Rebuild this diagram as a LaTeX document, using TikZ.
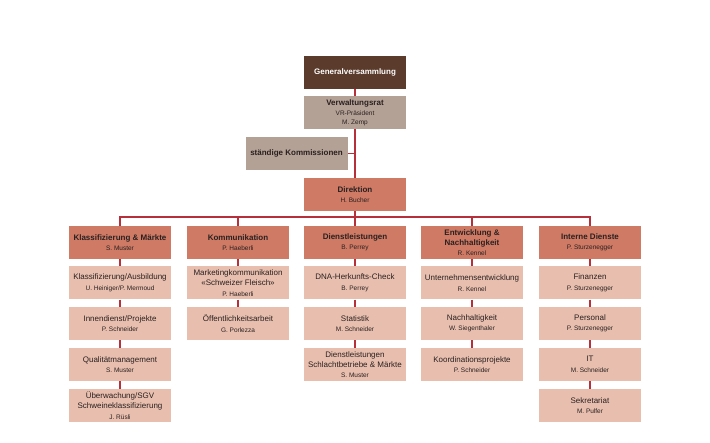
\documentclass[tikz,border=0pt]{standalone}
\usepackage{fontspec}
\setmainfont{Liberation Sans}
\usepackage{xcolor}
\usetikzlibrary{positioning}

\definecolor{gvbrown}{HTML}{5B3B2B}
\definecolor{vrgrey}{HTML}{B3A195}
\definecolor{dirred}{HTML}{CE7A65}
\definecolor{sublight}{HTML}{E8BFAE}
\definecolor{linered}{HTML}{B5303A}
\definecolor{textdark}{HTML}{2A2020}

\newcommand{\who}[1]{\\[1pt]{\fontsize{6.5}{8}\selectfont #1}}

\tikzset{
  unitbox/.style={minimum width=102pt, minimum height=33pt, inner sep=1pt,
    align=center, text=textdark, font=\fontsize{8}{9.5}\selectfont},
  headbox/.style={unitbox, fill=dirred, font=\fontsize{8}{9.5}\selectfont\bfseries},
  subbox/.style={unitbox, fill=sublight},
  link/.style={draw=linered, line width=1.1pt}
}

\begin{document}
\begin{tikzpicture}[x=1pt, y=-1pt]
\useasboundingbox (0,0) rectangle (710,443);

% top of the organisation
\node[unitbox, fill=gvbrown, text=white, font=\fontsize{8}{9.5}\selectfont\bfseries] (gv) at (355,72.5) {Generalversammlung};
\node[unitbox, fill=vrgrey] (vr) at (355,112.5) {\textbf{Verwaltungsrat}\who{VR-Präsident}\\[-1pt]{\fontsize{6.5}{8}\selectfont M. Zemp}};
\node[unitbox, fill=vrgrey, font=\fontsize{8}{9.5}\selectfont\bfseries] (komm) at (296.5,153.5) {ständige Kommissionen};
\node[headbox] (dir) at (355,194.5) {Direktion\who{\mdseries H. Bucher}};

% departments
\node[headbox] (k1) at (120,242.5) {Klassifizierung \& Märkte\who{\mdseries S. Muster}};
\node[headbox] (k2) at (238,242.5) {Kommunikation\who{\mdseries P. Haeberli}};
\node[headbox] (k3) at (355,242.5) {Dienstleistungen\who{\mdseries B. Perrey}};
\node[headbox] (k4) at (472,242.5) {Entwicklung \&\\[0.5pt]Nachhaltigkeit\who{\mdseries R. Kennel}};
\node[headbox] (k5) at (590,242.5) {Interne Dienste\who{\mdseries P. Sturzenegger}};

% Klassifizierung & Maerkte
\node[subbox] (k1a) at (120,283) {Klassifizierung/Ausbildung\who{U. Heiniger/P. Mermoud}};
\node[subbox] (k1b) at (120,323.5) {Innendienst/Projekte\who{P. Schneider}};
\node[subbox] (k1c) at (120,364.5) {Qualitätmanagement\who{S. Muster}};
\node[subbox] (k1d) at (120,405.5) {Überwachung/SGV\\[0.5pt]Schweineklassifizierung\who{J. Rüsli}};

% Kommunikation
\node[subbox] (k2a) at (238,283) {Marketingkommunikation\\[0.5pt]«Schweizer Fleisch»\who{P. Haeberli}};
\node[subbox] (k2b) at (238,323.5) {Öffentlichkeitsarbeit\who{G. Porlezza}};

% Dienstleistungen
\node[subbox] (k3a) at (355,283) {DNA-Herkunfts-Check\who{B. Perrey}};
\node[subbox] (k3b) at (355,323.5) {Statistik\who{M. Schneider}};
\node[subbox] (k3c) at (355,364.5) {Dienstleistungen\\[0.5pt]Schlachtbetriebe \& Märkte\who{S. Muster}};

% Entwicklung & Nachhaltigkeit
\node[subbox] (k4a) at (472,283) {Unternehmensentwicklung\who{R. Kennel}};
\node[subbox] (k4b) at (472,323.5) {Nachhaltigkeit\who{W. Siegenthaler}};
\node[subbox] (k4c) at (472,364.5) {Koordinationsprojekte\who{P. Schneider}};

% Interne Dienste
\node[subbox] (k5a) at (590,283) {Finanzen\who{P. Sturzenegger}};
\node[subbox] (k5b) at (590,323.5) {Personal\who{P. Sturzenegger}};
\node[subbox] (k5c) at (590,364.5) {IT\who{M. Schneider}};
\node[subbox] (k5d) at (590,405.5) {Sekretariat\who{M. Pulfer}};

% lines
\coordinate (bar) at (355,217);
\draw[link] (gv) -- (vr);
\draw[link] (vr) -- (dir);
\draw[link] (komm.east) -- (komm.east -| dir.north);
\draw[link] (dir) -- (bar);
\draw[link] (k1.north) |- (bar) -| (k5.north);
\foreach \k in {k2,k3,k4}
  \draw[link] (\k.north) -- (\k.north |- bar);
\foreach \a/\b in {k1/k1a,k1a/k1b,k1b/k1c,k1c/k1d,k2/k2a,k2a/k2b,
                   k3/k3a,k3a/k3b,k3b/k3c,k4/k4a,k4a/k4b,k4b/k4c,
                   k5/k5a,k5a/k5b,k5b/k5c,k5c/k5d}
  \draw[link] (\a) -- (\b);
\end{tikzpicture}
\end{document}
